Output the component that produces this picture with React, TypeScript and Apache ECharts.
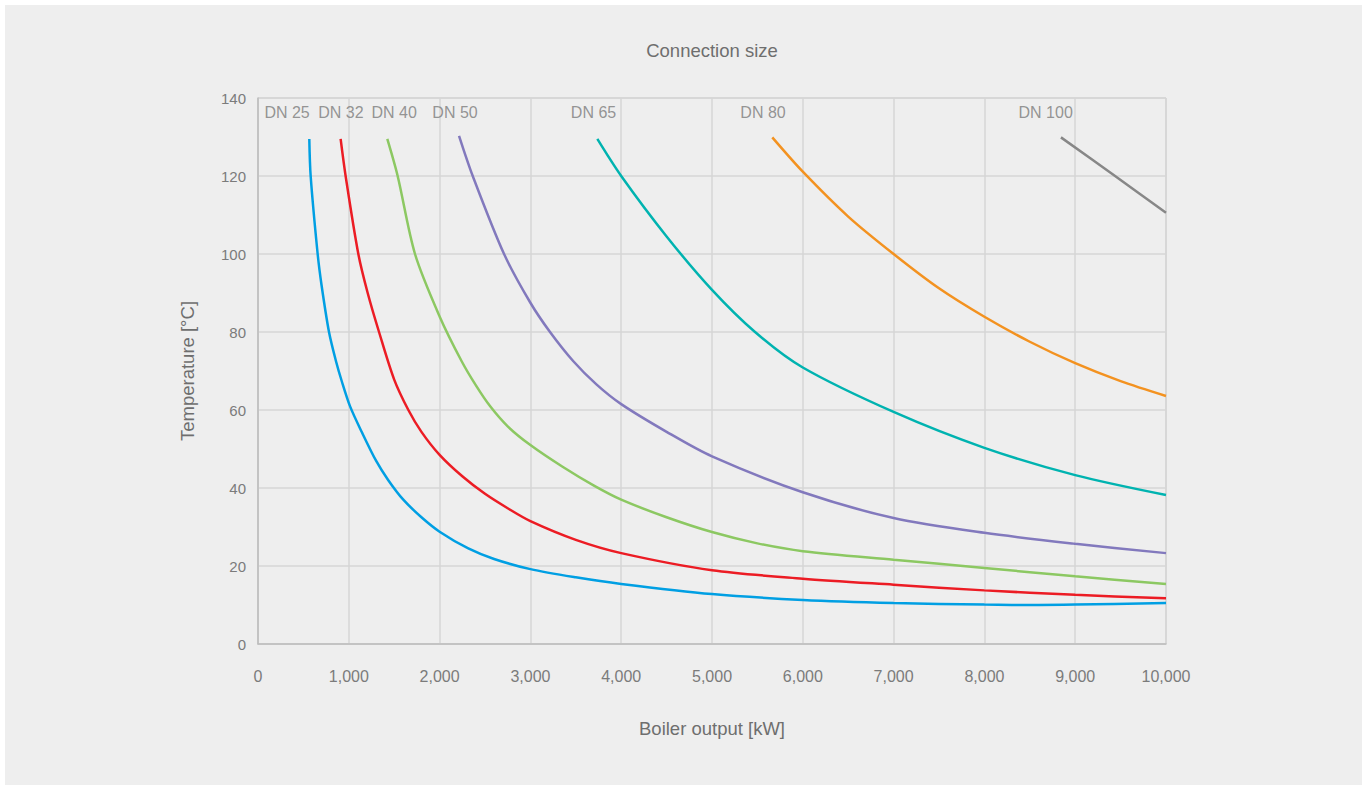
import React, { useEffect, useRef } from "react";
import * as echarts from "echarts";

// Boiler output [kW] / Temperature [°C] pairs
const dn25: [number, number][] = [
  [565, 129.5], [580, 120], [657, 100], [700, 92], [782, 80], [859, 72.5], [921, 67.5],
  [1013, 61], [1150, 54], [1300, 47], [1435, 42], [1600, 37], [1800, 32.5], [2000, 28.8],
  [2316, 24.5], [2600, 21.8], [3000, 19.2], [3500, 17.1], [4000, 15.4], [5000, 12.8],
  [6000, 11.3], [7000, 10.5], [8000, 10.1], [8600, 10.0], [9000, 10.1], [10000, 10.5],
];
const dn32: [number, number][] = [
  [910, 129.5], [965, 120], [1105, 100], [1208, 90], [1333, 80], [1500, 67.8], [1656, 60],
  [1800, 54.4], [2000, 48.5], [2250, 43], [2500, 38.5], [2750, 34.8], [3000, 31.5],
  [3500, 26.7], [4000, 23.3], [5000, 18.9], [6000, 16.75], [7000, 15.2], [8000, 13.75],
  [9000, 12.6], [10000, 11.7],
];
const dn40: [number, number][] = [
  [1424, 129.5], [1538, 120], [1729, 100], [2000, 84], [2243, 72.5], [2400, 66.3],
  [2555, 61], [2750, 55.8], [3000, 51], [3350, 45.5], [3700, 40.6], [4000, 37],
  [4500, 32.5], [5000, 28.7], [5500, 25.8], [6000, 23.8], [7000, 21.6], [8000, 19.5],
  [9000, 17.35], [10000, 15.4],
];
const dn50: [number, number][] = [
  [2214, 130.3], [2365, 120], [2710, 100], [3000, 87.5], [3216, 80], [3473, 72.5],
  [3730, 66.5], [4000, 61.5], [4500, 54.4], [5000, 48.1], [6000, 38.9], [7000, 32.3],
  [8000, 28.5], [9000, 25.7], [10000, 23.3],
];
const dn65: [number, number][] = [
  [3737, 129.5], [4000, 120], [4500, 104.5], [5000, 90.8], [5474, 80],
  [6000, 70.9], [7000, 59.5], [8000, 50.3], [9000, 43.3], [10000, 38.2],
];
const dn80: [number, number][] = [
  [5664, 129.9], [6000, 121.1], [6500, 109.6], [7000, 100], [7500, 91.2], [8000, 83.9],
  [8500, 77.5], [9000, 72.0], [9500, 67.4], [10000, 63.6],
];
const dn100: [number, number][] = [
  [8843, 129.9], [9420, 120.3], [10000, 110.6],
];

const seriesNames = ["DN 25", "DN 32", "DN 40", "DN 50", "DN 65", "DN 80", "DN 100"];
const seriesData = [dn25, dn32, dn40, dn50, dn65, dn80, dn100];
const seriesColors = ["#009fe3", "#ec1c24", "#8cc862", "#8279bd", "#00b3b0", "#f39220", "#878787"];

// Label anchor positions (data units)
const labelX = [320, 914, 1500, 2170, 3695, 5562, 8675];
const labelY = [136.4, 136.4, 136.4, 136.4, 136.4, 136.4, 136.4];

const titleText = "Connection size";
const xName = "Boiler output [kW]";
const yName = "Temperature [°C]";

export default function App() {
  const ref = useRef<HTMLDivElement>(null);
  useEffect(() => {
    if (!ref.current) return;
    const chart = echarts.init(ref.current, null, { renderer: "svg" });
    const font = "'Liberation Sans', Arial, Helvetica, sans-serif";
    const textColor = "#7b7b7b";
    const lineSeries = seriesData.map((d, i) => ({
      type: "line",
      name: seriesNames[i],
      data: d,
      showSymbol: false,
      symbol: "none",
      smooth: 0.3,
      lineStyle: { color: seriesColors[i], width: 2.5 },
      itemStyle: { color: seriesColors[i] },
      silent: true,
      z: 3,
    }));
    const labelSeries = {
      type: "scatter",
      data: seriesNames.map((n, i) => [labelX[i], labelY[i], n]),
      symbolSize: 0,
      silent: true,
      label: {
        show: true,
        position: "inside",
        formatter: (p: any) => p.data[2],
        color: textColor,
        fontFamily: font,
        fontSize: 16,
      },
      z: 4,
    };
    chart.setOption({
      animation: false,
      backgroundColor: "#eeeeee",
      textStyle: { fontFamily: font },
      title: {
        text: titleText,
        left: 702,
        textAlign: "center",
        top: 31,
        textStyle: { color: "#6e6e6e", fontSize: 18.5, fontWeight: "normal", fontFamily: font },
      },
      grid: {
        left: 253,
        right: 196,
        top: 93,
        bottom: 141,
        show: true,
        borderColor: "#c6c6c6",
        borderWidth: 1,
        backgroundColor: "transparent",
      },
      xAxis: {
        type: "value",
        min: 0,
        max: 10000,
        interval: 1000,
        name: xName,
        nameLocation: "middle",
        nameGap: 75,
        nameTextStyle: { color: "#6e6e6e", fontSize: 18.5, fontFamily: font },
        axisLine: { show: true, lineStyle: { color: "#bdbdbd", width: 1.5 } },
        axisTick: { show: false },
        axisLabel: {
          color: textColor,
          fontSize: 16,
          margin: 24,
          fontFamily: font,
          formatter: (v: number) => v.toLocaleString("en-US"),
        },
        splitLine: { show: true, lineStyle: { color: "#d6d6d6", width: 1.5 } },
      },
      yAxis: {
        type: "value",
        min: 0,
        max: 140,
        interval: 20,
        name: yName,
        nameLocation: "middle",
        nameGap: 61,
        nameTextStyle: { color: "#6e6e6e", fontSize: 18.5, fontFamily: font },
        axisLine: { show: true, lineStyle: { color: "#bdbdbd", width: 1.5 } },
        axisTick: { show: false },
        axisLabel: { color: textColor, fontSize: 15, margin: 12, fontFamily: font },
        splitLine: { show: true, lineStyle: { color: "#d6d6d6", width: 1.5 } },
      },
      series: [...lineSeries, labelSeries],
    });
    return () => chart.dispose();
  }, []);
  return (
    <div style={{ position: "fixed", left: 0, top: 0, width: 1362, height: 785, background: "#ffffff" }}>
      <div
        ref={ref}
        style={{ position: "absolute", left: 5, top: 5, width: 1357, height: 780, background: "#eeeeee" }}
      />
    </div>
  );
}
